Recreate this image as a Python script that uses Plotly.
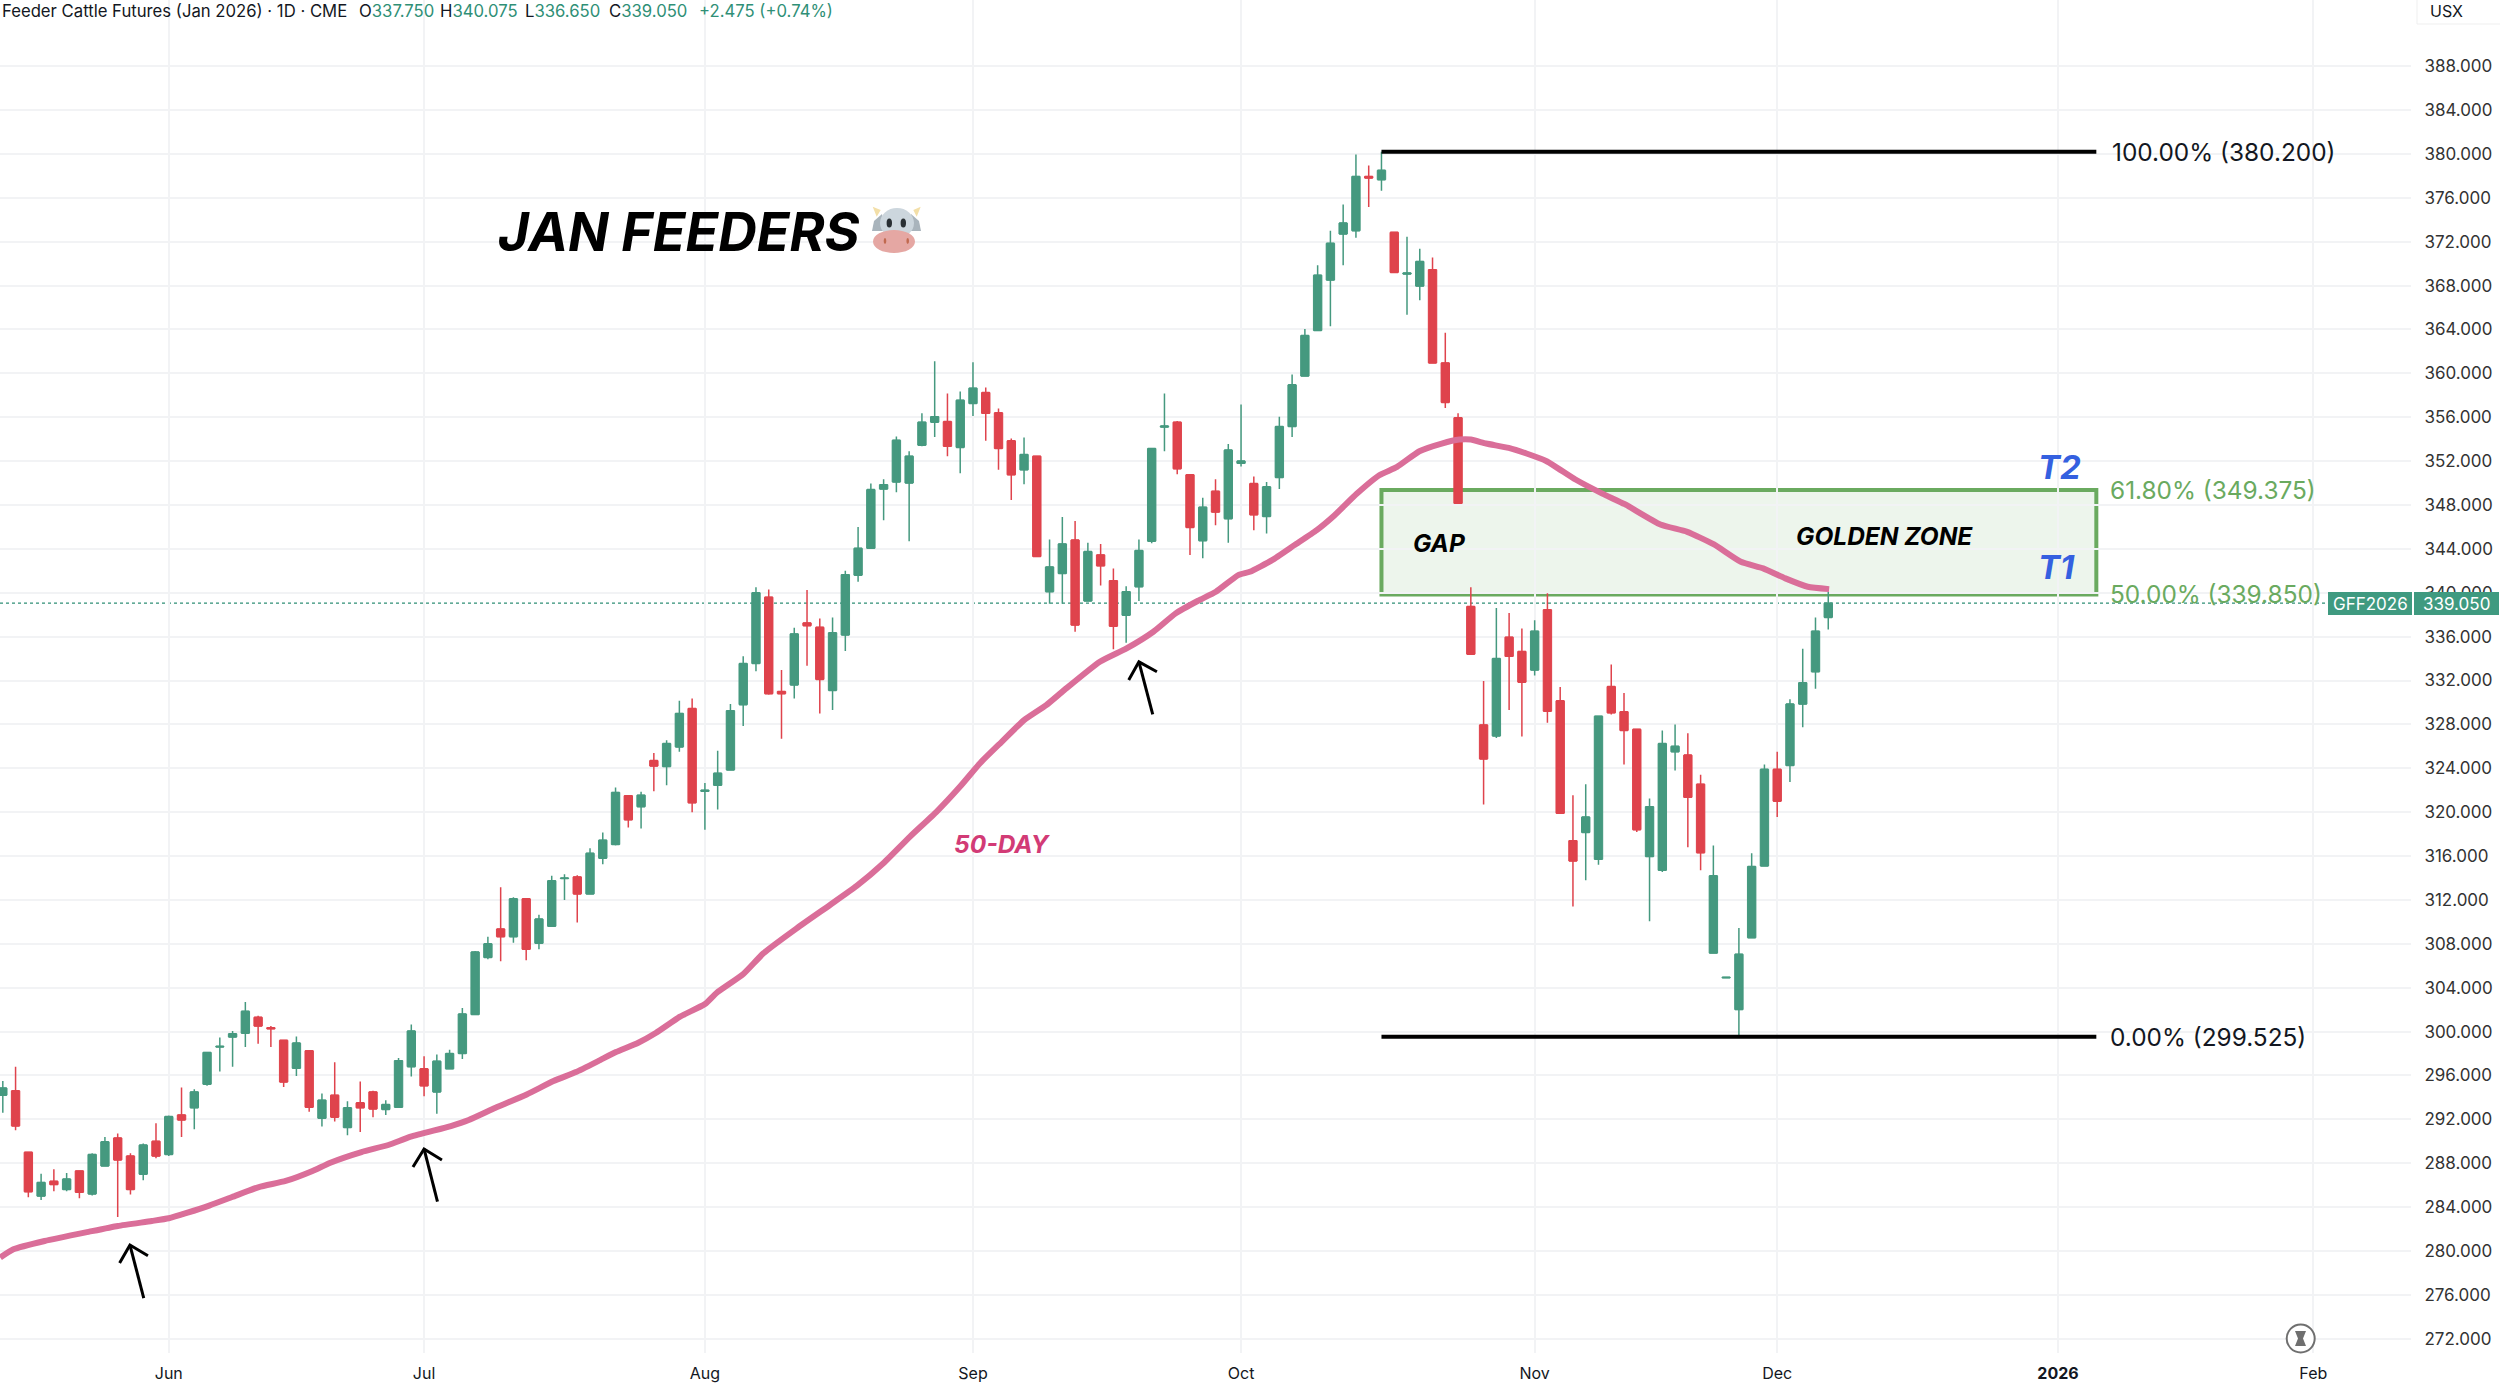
import plotly.graph_objects as go

first_bar = -13
open_ = [294.2,294.6,289.0,285.0,286.35,285.6,287.3,285.2,287.75,290.3,288.65,287.0,290.0,
288.8,292.4,293.05,295.2,298.6,299.5,299.85,301.3,300.35,299.2,
296.65,298.25,292.1,294.2,291.25,293.5,294.5,292.9,293.1,296.8,
296.6,294.5,296.6,298.0,301.55,306.75,309.35,308.65,312.1,308.05,
309.6,313.95,314.1,312.55,315.8,317.05,321.5,320.5,324.7,324.15,
325.95,329.45,321.9,322.45,323.85,329.8,333.55,339.6,331.0,331.6,
337.25,336.85,331.1,336.15,341.6,344.05,349.45,350.1,350.0,353.45,
355.55,355.6,353.25,357.25,358.25,356.4,353.85,351.2,352.45,340.1,
341.75,344.8,339.25,343.45,341.1,337.95,340.55,344.7,355.1,355.55,
350.75,344.75,349.25,346.75,351.8,349.95,346.95,350.5,355.15,359.75,
363.9,368.5,372.7,373.0,377.95,377.65,372.85,369.05,367.95,369.45,
360.95,355.95,338.75,327.95,326.95,335.95,334.65,332.95,338.45,330.15,
317.4,318.15,315.7,331.45,329.15,327.55,315.95,314.7,325.5,325.2,
322.55,307.15,304.9,302.0,308.55,315.1,323.9,324.25,329.85,332.8,
337.75]
high = [295.5,296.8,289.05,287.05,287.45,287.1,287.35,288.9,290.4,290.7,288.9,289.8,291.65,
292.35,294.9,294.75,298.15,299.45,300.05,302.7,301.45,300.5,299.25,
299.55,298.3,294.35,297.2,293.65,295.45,294.6,293.75,297.6,300.65,
297.75,297.9,298.35,302.15,307.35,308.65,313.15,312.25,312.15,310.65,
314.2,314.35,314.25,316.7,318.15,322.25,321.55,321.85,325.4,326.55,
330.15,330.35,322.65,325.6,329.85,334.2,340.5,340.3,332.95,336.8,
340.25,337.65,337.75,342.0,346.0,349.95,350.35,354.25,352.9,356.35,
361.1,358.15,358.35,361.0,358.7,356.8,354.05,354.15,352.5,344.85,
346.9,346.55,344.55,344.45,342.2,340.6,344.85,353.2,358.15,355.65,
350.8,348.65,350.35,353.55,357.15,350.6,350.1,356.05,359.9,364.05,
369.85,373.0,375.4,379.95,378.95,380.2,372.9,372.45,371.35,370.55,
363.7,356.35,340.5,331.95,338.6,338.15,336.75,337.5,339.95,331.4,
321.55,322.55,328.8,333.45,330.85,327.6,321.25,327.45,328.0,327.2,
323.4,316.95,305.0,309.45,316.25,324.35,325.5,330.3,334.9,337.75,
340.075]
low = [292.6,291.0,284.9,284.65,285.45,285.45,284.8,285.05,287.7,283.1,285.15,286.45,288.45,
288.65,290.4,291.1,295.05,296.35,296.8,298.6,298.9,298.6,294.95,
295.95,292.7,291.35,291.8,290.55,290.85,292.2,292.4,293.1,295.9,
294.1,292.5,296.6,297.5,301.55,306.6,306.4,308.1,306.5,307.5,
309.6,312.0,309.95,312.5,315.25,316.95,318.6,318.5,321.9,322.45,
325.5,320.0,318.4,320.25,323.85,327.85,332.85,330.7,326.7,330.35,
333.35,329.0,329.3,334.7,341.0,344.0,346.6,349.15,344.7,353.35,
354.2,352.45,350.9,356.1,353.85,351.2,348.45,349.9,343.3,339.0,
339.0,336.45,339.2,340.65,334.85,335.45,339.25,344.5,352.9,350.8,
343.45,343.15,346.15,344.55,351.5,345.7,345.4,349.45,354.2,359.7,
363.85,364.3,369.85,372.35,375.15,376.65,369.2,365.35,366.65,360.9,
356.85,348.1,334.35,320.7,326.75,329.3,326.9,332.45,328.15,319.9,
311.4,313.8,315.2,328.9,324.35,318.2,310.05,314.55,323.8,316.8,
314.7,307.1,304.9,299.525,308.5,315.1,319.55,322.75,327.75,331.25,
336.65]
close = [294.85,291.4,285.4,286.25,286.05,286.55,285.35,288.8,289.95,288.3,285.6,289.65,288.65,
292.25,291.95,294.5,298.1,298.65,299.8,301.85,300.5,300.25,295.4,
298.95,293.1,293.75,292.2,293.05,293.05,292.95,293.35,297.35,300.05,
295.05,297.3,298.0,301.6,307.25,308.0,308.65,312.1,307.5,310.25,
313.75,314.0,312.55,316.25,317.45,321.8,319.3,321.55,324.2,326.25,
329.0,320.85,322.0,323.55,329.25,333.55,340.0,330.8,330.8,336.25,
337.0,332.1,336.35,341.65,344.05,349.4,349.85,353.9,352.45,355.55,
356.05,353.35,357.55,358.65,356.35,353.15,350.75,352.6,343.3,342.35,
344.45,337.05,343.75,342.45,336.95,340.1,343.85,353.15,355.2,351.3,
345.95,347.8,347.35,353.0,352.0,347.1,349.65,355.15,358.95,363.45,
368.95,371.85,373.7,377.95,377.8,378.5,369.2,369.15,370.2,360.95,
357.35,348.15,334.4,324.85,334.0,334.2,331.85,336.5,329.2,319.9,
315.55,319.55,328.75,329.05,327.45,318.4,320.5,326.25,326.0,321.35,
316.3,314.2,304.95,307.05,315.05,323.9,321.0,329.85,331.8,336.5,
339.05]

ma_bar = [-13.2,-12.17,-9.72,-6.22,-3.99,-1.33,0,1.47,3.22,4.97,7.06,9.16,11.26,12.66,15.1,17.2,18.95,
22.1,23.5,25.6,28.04,30.14,31.9,33.64,35.03,36.78,38.18,40.05,42.01,42.93,45.01,46.58,49.19,51.8,53.89,
55.98,58.07,60.16,61.99,63.55,65.25,67,68.74,70.14,72.94,75.03,77.13,78.88,80.63,82.03,83.78,
84.69,86.43,88.18,89.93,91.33,93.08,94.83,96.22,97.97,99.72,101.1,102,103.2,104.97,106.36,107.94,
110.2,112.3,114.06,116.85,118.95,121.05,123.15,124.9,126.64,128.39,130.07]
ma_val = [279.4,280.15,280.91,281.76,282.28,282.73,282.98,283.49,284.16,284.92,285.83,286.38,287.29,288.05,289.02,289.66,290.42,
291.39,291.94,293.06,294.27,295.49,296.31,297.31,298.13,298.98,299.89,301.36,302.51,303.54,305.25,307.13,309.41,311.54,313.27,
315.34,317.77,320.05,322.33,324.46,326.41,328.39,329.76,331.12,333.71,334.92,336.44,338.12,339.27,340.09,341.61,
341.91,342.97,344.34,345.71,347.07,349.04,350.71,351.47,352.9,353.6,353.96,353.96,353.6,353.2,352.69,351.99,
350.32,349.04,348.07,346.22,345.55,344.4,342.82,342.22,341.31,340.55,340.33]

fib_pct = ["100.00%", "61.80%", "50.00%", "0.00%"]
fib_level = [380.2, 349.375, 339.85, 299.525]
last_price = 339.05

month_bar = [0, 20, 42, 63, 84, 107, 126, 148, 168]
month_label = ["Jun", "Jul", "Aug", "Sep", "Oct", "Nov", "Dec", "<b>2026</b>", "Feb"]
price_ticks = list(range(272, 392, 4))
price_labels = [f"{p}.000" for p in price_ticks]

header_name = "Feeder Cattle Futures (Jan 2026) · 1D · CME"
ohlc_names = ["O", "H", "L", "C"]
ohlc_text = ["337.750", "340.075", "336.650", "339.050"]
change_text = "+2.475 (+0.74%)"

arrow_bars = [[-1.96, -3.04], [21.05, 20.0], [77.08, 76.0]]
arrow_prices = [[275.71, 280.54], [284.5, 289.3], [328.92, 333.7]]
arrow_wing_bars = [[-3.85, -3.04, -1.63], [19.13, 20.0, 21.4], [75.2, 76.0, 77.41]]
arrow_wing_prices = [[278.9, 280.54, 279.56], [287.65, 289.3, 288.3], [332.04, 333.7, 332.8]]

GREEN, RED = "#45997f", "#df434c"
ZONE = "#6aaa5f"
W, H = 2500, 1383
PW, PH = 2411, 1353
FONT = "Inter"
bars = list(range(first_bar, first_bar + len(close)))
body_base = [min(o, c) for o, c in zip(open_, close)]
body_size = [abs(c - o) for o, c in zip(open_, close)]
body_color = [GREEN if c >= o else RED for o, c in zip(open_, close)]

def px(x):
    return x / PW
def py(y):
    return 1 - y / PH

fig = go.Figure()
fig.add_trace(go.Bar(x=bars, y=body_size, base=body_base, width=0.66, hoverinfo="skip", showlegend=False,
    marker=dict(color=body_color, line=dict(color=body_color, width=1))))
fig.add_trace(go.Candlestick(
    x=bars, open=open_, high=high, low=low, close=close,
    increasing=dict(line=dict(color=GREEN, width=1.5), fillcolor=GREEN),
    decreasing=dict(line=dict(color=RED, width=1.5), fillcolor=RED),
    whiskerwidth=0, hoverinfo="skip", showlegend=False))
fig.add_trace(go.Scatter(x=ma_bar, y=ma_val, mode="lines", hoverinfo="skip", showlegend=False,
    line=dict(color="#da6e99", width=6, shape="spline", smoothing=0.5)))
for bx, by, wx, wy in zip(arrow_bars, arrow_prices, arrow_wing_bars, arrow_wing_prices):
    fig.add_trace(go.Scatter(x=bx, y=by, mode="lines", hoverinfo="skip", showlegend=False,
        line=dict(color="#000", width=3)))
    fig.add_trace(go.Scatter(x=wx, y=wy, mode="lines", hoverinfo="skip", showlegend=False,
        line=dict(color="#000", width=3)))
fib_start, fib_end = 95, 151
for lvl in (fib_level[0], fib_level[3]):
    fig.add_trace(go.Scatter(x=[fib_start, fib_end], y=[lvl, lvl], mode="lines", hoverinfo="skip",
        showlegend=False, line=dict(color="#000", width=4)))

shapes = [
    dict(type="rect", layer="below", xref="x", yref="y", x0=fib_start, x1=fib_end,
         y0=fib_level[2], y1=fib_level[1], line=dict(color=ZONE, width=4),
         fillcolor="rgba(106,170,95,0.12)"),
    dict(type="line", layer="below", xref="paper", yref="y", x0=0, x1=1, y0=last_price, y1=last_price,
         line=dict(color="#2f8f76", width=1.2, dash="dot")),
]
def rect(x0, y0, x1, y1, fill, line=None, kind="rect"):
    shapes.append(dict(type=kind, xref="paper", yref="paper", x0=px(x0), x1=px(x1), y0=py(y1), y1=py(y0),
                       fillcolor=fill, line=dict(color=line or fill, width=1 if line else 0)))
def path(points, fill):
    d = "M" + " L".join(f"{px(a):.5f},{py(b):.5f}" for a, b in points) + " Z"
    shapes.append(dict(type="path", xref="paper", yref="paper", path=d, fillcolor=fill, line=dict(width=0)))

rect(2328, 592, 2412, 615, "#3f9a80")
rect(2414, 592, 2499, 615, "#3f9a80")
# cow face next to the title
path([(872.7, 206.7), (880.7, 210), (876.7, 216.7)], "#f3dfa8")
path([(920.7, 206.7), (913.3, 210), (916.7, 216.7)], "#f3dfa8")
path([(882, 214), (874, 221), (872, 231), (884, 231)], "#a9b4bc")
path([(911, 214), (919, 221), (921, 231), (909, 231)], "#a9b4bc")
rect(880, 208, 914, 238, "#ccd6dd", kind="circle")
rect(873, 230, 915, 253, "#e5a7a3", kind="circle")
rect(886.6, 218.5, 892, 227.5, "#292f33", kind="circle")
rect(900.6, 218.5, 906, 227.5, "#292f33", kind="circle")
rect(883.7, 238, 886.3, 244, "#c1694f", kind="circle")
rect(906.4, 238, 909, 244, "#c1694f", kind="circle")
# hourglass badge
shapes.append(dict(type="circle", xref="paper", yref="paper", x0=px(2286.7), x1=px(2314.7),
                   y0=py(1352.5), y1=py(1324.5), line=dict(color="#6f6f6f", width=2), fillcolor="#fff"))
path([(2295, 1331), (2306, 1331), (2303, 1338.5), (2306, 1346), (2295, 1346), (2298, 1338.5)], "#6f6f6f")
# currency badge
rect(2417, -6, 2502, 24, "#ffffff", "#efefef")

ann = []
def text(x, y, s, size, color="#000", anchor="left", yref="paper", bold=False, italic=False):
    ann.append(dict(xref="paper", yref=yref, x=px(x), y=py(y) if yref == "paper" else y, text=s,
                    showarrow=False, xanchor=anchor, yanchor="middle",
                    font=dict(family=FONT, size=size, color=color,
                              weight="bold" if bold else "normal",
                              style="italic" if italic else "normal")))

text(0, 11, header_name, 16.7, "#131722")
ohlc_x = [357, 438, 523, 607]
for x, n, v in zip(ohlc_x, ohlc_names, ohlc_text):
    text(x, 11, f'{n}<span style="color:#2f8f76">{v}</span>', 16.7, "#131722")
text(697, 11, change_text, 16.7, "#2f8f76")
text(496, 231, "JAN FEEDERS", 53.4, bold=True, italic=True)
text(1411, 543, "GAP", 24.5, bold=True, italic=True)
text(1794, 536, "GOLDEN ZONE", 24.5, bold=True, italic=True)
text(2036, 467, "T2", 33, "#3460e0", bold=True, italic=True)
text(2036, 567, "T1", 33, "#3460e0", bold=True, italic=True)
text(952, 844, "50-DAY", 24.5, "#d23b76", bold=True, italic=True)
fib_colors = ["#131722", ZONE, ZONE, "#131722"]
fib_x = [2110, 2108, 2108, 2108]
for p, lv, c, x in zip(fib_pct, fib_level, fib_colors, fib_x):
    text(x, lv, f"{p} ({lv:.3f})", 24.4, c, yref="y")
text(2328 + 42, 604, "GFF2026", 17, "#fff", "center")
text(2414 + 42, 604, f"{last_price:.3f}", 17, "#fff", "center")
text(2446, 11, "USX", 16, "#131722", "center")

fig.update_layout(
    width=W, height=H, autosize=False, paper_bgcolor="#fff", plot_bgcolor="#fff",
    margin=dict(l=0, r=W - PW, t=0, b=H - PH, autoexpand=False),
    barmode="overlay", showlegend=False, shapes=shapes, annotations=ann, hovermode=False,
    font=dict(family=FONT),
    xaxis=dict(range=[-13.22, 175.65], tickvals=month_bar, ticktext=month_label, showgrid=True,
               gridcolor="#f2f3f5", gridwidth=1.5, zeroline=False, showline=False,
               rangeslider=dict(visible=False), ticks="outside", ticklen=6, tickcolor="rgba(0,0,0,0)",
               tickfont=dict(family=FONT, size=16, color="#131722")),
    yaxis=dict(range=[270.7, 394.03], side="right", tickvals=price_ticks, ticktext=price_labels,
               showgrid=True, gridcolor="#f2f3f5", gridwidth=1.5, zeroline=False, showline=False,
               ticks="outside", ticklen=9, tickcolor="rgba(0,0,0,0)",
               tickfont=dict(family=FONT, size=17, color="#333")),
)
fig.write_html("out.html", config=dict(displayModeBar=False),
               post_script="document.body.style.margin='0';")
